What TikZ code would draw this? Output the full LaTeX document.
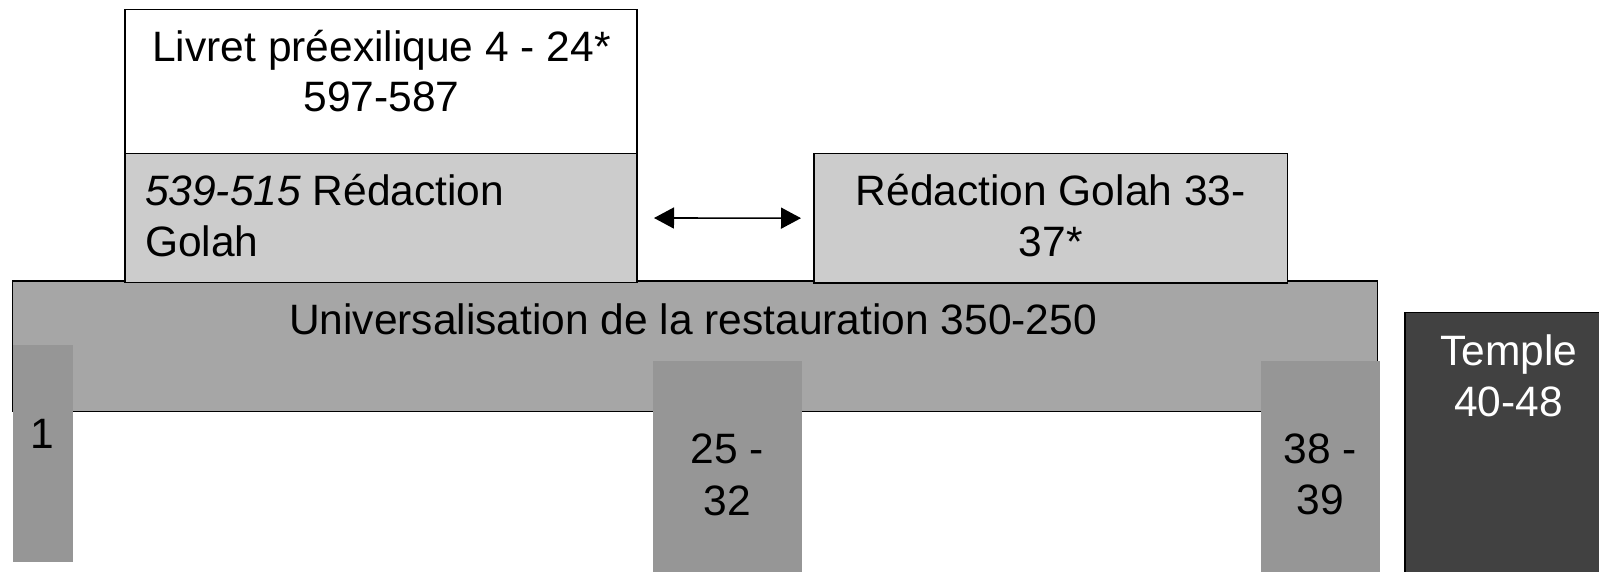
\documentclass[tikz,border=0pt]{standalone}
\usepackage{fontspec}
\setmainfont{Liberation Sans}
\usetikzlibrary{arrows.meta}
\definecolor{lightg}{RGB}{204,204,204}
\definecolor{midg}{RGB}{166,166,166}
\definecolor{barg}{RGB}{150,150,150}
\definecolor{templeg}{RGB}{65,65,65}
\begin{document}
\begin{tikzpicture}[x=1pt,y=-1pt,
  box/.style={draw=black,line width=1.5pt,rectangle,inner sep=0pt,outer sep=0pt},
  bar/.style={rectangle,inner sep=0pt,outer sep=0pt,fill=barg},
  txt/.style={inner sep=0pt,outer sep=0pt,anchor=base,font=\fontsize{42.5}{51}\selectfont},
  txtl/.style={txt,anchor=base west},
  dblarrow/.style={line width=1.6pt,{Triangle[length=20pt,width=21pt]}-{Triangle[length=20pt,width=21pt]}}]
\useasboundingbox (0,0) rectangle (1599,571);
\fill[white] (0,0) rectangle (1599,571);
% universal band
\node[box,fill=midg,minimum width=1365pt,minimum height=130.5pt] (univ) at (695.2,346.25) {};
% top boxes
\node[box,fill=white,minimum width=512pt,minimum height=144pt] (pre) at (381,81.3) {};
\node[box,fill=lightg,minimum width=512pt,minimum height=129.4pt] (lg) at (381,218) {};
\node[box,fill=lightg,minimum width=473.5pt,minimum height=129.7pt] (rg) at (1050.75,218.15) {};
% bars
\node[bar,minimum width=60.3pt,minimum height=217pt] (b1) at (42.85,453.5) {};
\node[bar,minimum width=149.3pt,minimum height=215pt] (b25) at (727.35,468.5) {};
\node[bar,minimum width=119pt,minimum height=215pt] (b38) at (1320.5,468.2) {};
\node[box,fill=templeg,minimum width=207pt,minimum height=263pt] (temple) at (1508.5,444.2) {};
% arrow
\draw[dblarrow] ([xshift=17pt]lg.east) -- ([xshift=-13pt]rg.west);
% texts
\node[txt] (t1) at (381.5,61.7) {Livret préexilique 4 - 24*};
\node[txt] (t2) at (381.5,111) {597-587};
\node[txtl] (l1) at (145,205) {\textit{539-515} Rédaction};
\node[txtl] (l2) at (145,256.7) {Golah};
\node[txt] (r1) at (1050.7,205) {Rédaction Golah 33-};
\node[txt] (r2) at (1050.7,256.7) {37*};
\node[txt] (u1) at (693,334.3) {Universalisation de la restauration 350-250};
\node[txt] (n1) at (42.8,448.3) {1};
\node[txt] (n25a) at (727.3,463.3) {25 -};
\node[txt] (n25b) at (727.3,515) {32};
\node[txt] (n38a) at (1320.5,463.3) {38 -};
\node[txt] (n38b) at (1320.5,514.5) {39};
\node[txt,text=white] (tp1) at (1508.7,365) {Temple};
\node[txt,text=white] (tp2) at (1508.7,416.7) {40-48};
\end{tikzpicture}
\end{document}
